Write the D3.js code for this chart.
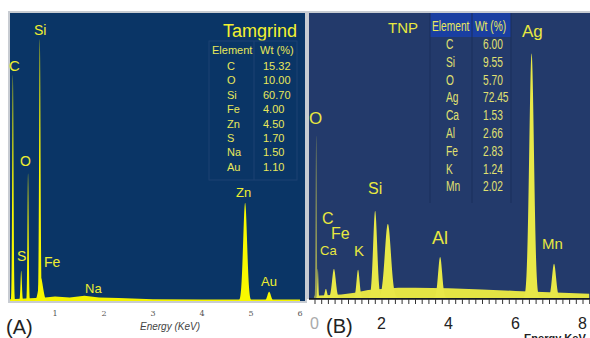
<!DOCTYPE html>
<html>
<head>
<meta charset="utf-8">
<script src="https://cdn.jsdelivr.net/npm/d3@7"></script>
<style>
  body { margin: 0; background: #fff; }
  svg { display: block; font-family: Arial, "Liberation Sans", sans-serif; }
</style>
</head>
<body>
<div id="chart"></div>
<script>
// ---- data: panel A (Tamgrind) ----
// peaks: element, energy (keV), height (% of full scale), width (sigma, keV)
const peaksA = [
    { el: "C",  e: 0.14, h: 78.5, w: 0.013 },
    { el: "S",  e: 0.31, h: 10.5, w: 0.014 },
    { el: "O",  e: 0.45, h: 44.3, w: 0.012 },
    { el: "Fe", e: 0.71, h: 8.0,  w: 0.045 },
    { el: "Si", e: 0.69, h: 91.0, w: 0.014 },
    { el: "Zn", e: 4.88, h: 34.1, w: 0.040 },
    { el: "Au", e: 5.37, h: 3.2,  w: 0.035 }
];
const backgroundA = [[0.05, 0.6], [0.8, 1.2], [1.0, 1.6], [1.3, 1.2], [1.6, 1.8], [1.9, 1.2], [2.3, 1.0], [3.0, 0.6], [4.0, 0.5], [6.0, 0.5]];
const ticksA = [1, 2, 3, 4, 5, 6];
const tableAEl = ["C", "O", "Si", "Fe", "Zn", "S", "Na", "Au"];
const tableAWt = ["15.32", "10.00", "60.70", "4.00", "4.50", "1.70", "1.50", "1.10"];

// ---- data: panel B (TNP) ----
const peaksB = [
    { el: "O",  e: 0.05, h: 57.0, w: 0.015 },
    { el: "C",  e: 0.10, h: 10.2, w: 0.015 },
    { el: "Ca", e: 0.34, h: 3.2,  w: 0.035 },
    { el: "Fe", e: 0.58, h: 10.2, w: 0.055 },
    { el: "K",  e: 1.30, h: 9.9,  w: 0.045 },
    { el: "Si", e: 1.81, h: 30.6, w: 0.06 },
    { el: "",   e: 2.19, h: 26.0, w: 0.09 },
    { el: "Al", e: 3.75, h: 14.4, w: 0.06 },
    { el: "Ag", e: 6.48, h: 85.9, w: 0.07 },
    { el: "Mn", e: 7.15, h: 12.0, w: 0.06 }
];
const backgroundB = [[0.0, 0.8], [0.8, 1.2], [1.2, 1.8], [1.6, 2.8], [2.5, 3.6], [3.0, 3.6], [4.0, 3.4], [5.0, 3.0], [6.0, 2.5], [7.0, 2.0], [8.2, 1.5]];
const ticksB = [0, 2, 4, 6, 8];
const tableBEl = ["C", "Si", "O", "Ag", "Ca", "Al", "Fe", "K", "Mn"];
const tableBWt = ["6.00", "9.55", "5.70", "72.45", "1.53", "2.66", "2.83", "1.24", "2.02"];

const W = 590, H = 338;
const svg = d3.select("#chart").append("svg")
    .attr("width", W)
    .attr("height", H);

svg.append("rect").attr("width", W).attr("height", H).attr("fill", "#fff");

// shape of one peak drawn from its row
function peakPoints(p) {
    const pts = [];
    for (let i = -40; i <= 40; i++) {
        const e = p.e + i / 10 * p.w;
        pts.push([e, p.h * Math.exp(-0.5 * Math.pow((e - p.e) / p.w, 2))]);
    }
    return pts;
}

// ================= Panel A =================
svg.append("rect").attr("x", 8).attr("y", 11).attr("width", 299).attr("height", 292).attr("fill", "#c8ccd2");
svg.append("rect").attr("x", 10).attr("y", 13).attr("width", 295).attr("height", 288).attr("fill", "#0a3566");

svg.append("clipPath").attr("id", "clipA")
    .append("rect").attr("x", 10).attr("y", 13).attr("width", 295).attr("height", 288);

const xA = d3.scaleLinear().domain([0, 6]).range([6, 300]);
const yA = d3.scaleLinear().domain([0, 100]).range([301, 13]);

const areaA = d3.area().x(d => xA(d[0])).y0(yA(0)).y1(d => yA(d[1]));
const gA = svg.append("g").attr("clip-path", "url(#clipA)");

gA.append("path").datum(backgroundA).attr("d", areaA).attr("fill", "#f4f400");
gA.selectAll("path.peak")
    .data(peaksA)
    .enter()
    .append("path")
    .attr("class", "peak")
    .attr("d", d => areaA(peakPoints(d)))
    .attr("fill", "#f8f800");

// x tick labels
svg.selectAll("text.tickA")
    .data(ticksA)
    .enter()
    .append("text")
    .attr("class", "tickA")
    .attr("x", d => xA(d))
    .attr("y", 316)
    .attr("text-anchor", "middle")
    .style("font-family", "'DejaVu Serif', serif")
    .style("font-size", "8px")
    .attr("fill", "#555")
    .text(d => d);

svg.append("text")
    .attr("x", 170).attr("y", 330)
    .attr("text-anchor", "middle")
    .style("font-size", "10px")
    .style("font-style", "italic")
    .attr("fill", "#444")
    .text("Energy (KeV)");

svg.append("text")
    .attr("x", 6).attr("y", 334)
    .style("font-size", "20px")
    .attr("fill", "#222")
    .text("(A)");

// peak labels
const labelsA = [
    { t: "Si", x: 34, y: 35, s: 14 },
    { t: "C",  x: 9,  y: 71, s: 15 },
    { t: "O",  x: 20, y: 166, s: 14 },
    { t: "S",  x: 17, y: 261, s: 14 },
    { t: "Fe", x: 44, y: 267, s: 14 },
    { t: "Na", x: 85, y: 293, s: 13 },
    { t: "Zn", x: 236, y: 197, s: 13 },
    { t: "Au", x: 261, y: 286, s: 13 }
];
svg.selectAll("text.lblA")
    .data(labelsA)
    .enter()
    .append("text")
    .attr("class", "lblA")
    .attr("x", d => d.x).attr("y", d => d.y)
    .style("font-size", d => d.s + "px")
    .attr("fill", "#eeee30")
    .text(d => d.t);

// table A
svg.append("text")
    .attr("x", 297).attr("y", 37)
    .attr("text-anchor", "end")
    .style("font-size", "18px")
    .attr("fill", "#f2f230")
    .text("Tamgrind");

const tabA = svg.append("g");
tabA.append("rect").attr("x", 209).attr("y", 41).attr("width", 88).attr("height", 139)
    .attr("fill", "none").attr("stroke", "#1c4272").attr("stroke-width", 1);
tabA.append("line").attr("x1", 254).attr("x2", 254).attr("y1", 41).attr("y2", 180)
    .attr("stroke", "#1c4272");
tabA.append("text").attr("x", 212).attr("y", 54).style("font-size", "11px").attr("fill", "#e8e85a").text("Element");
tabA.append("text").attr("x", 260).attr("y", 54).style("font-size", "11px").attr("fill", "#e8e85a").text("Wt (%)");
tabA.selectAll("text.elA")
    .data(tableAEl)
    .enter()
    .append("text")
    .attr("class", "elA")
    .attr("x", 227).attr("y", (d, i) => 70 + i * 14.4)
    .style("font-size", "11px")
    .attr("fill", "#e8e85a")
    .text(d => d);
tabA.selectAll("text.wtA")
    .data(tableAWt)
    .enter()
    .append("text")
    .attr("class", "wtA")
    .attr("x", 263).attr("y", (d, i) => 70 + i * 14.4)
    .style("font-size", "11px")
    .attr("fill", "#e8e85a")
    .text(d => d);

// ================= Panel B =================
svg.append("rect").attr("x", 307).attr("y", 11).attr("width", 283).attr("height", 288).attr("fill", "#c8ccd2");
svg.append("rect").attr("x", 309).attr("y", 13).attr("width", 281).attr("height", 286).attr("fill", "#233a6b");

svg.append("clipPath").attr("id", "clipB")
    .append("rect").attr("x", 309).attr("y", 13).attr("width", 281).attr("height", 286);

const xB = d3.scaleLinear().domain([0, 8]).range([314.5, 582.5]);
const yB = d3.scaleLinear().domain([0, 100]).range([298, 13]);

const areaB = d3.area().x(d => xB(d[0])).y0(yB(0)).y1(d => yB(d[1]));
const gB = svg.append("g").attr("clip-path", "url(#clipB)");

gB.append("path").datum(backgroundB).attr("d", areaB).attr("fill", "#e4e444");
gB.selectAll("path.peak")
    .data(peaksB)
    .enter()
    .append("path")
    .attr("class", "peak")
    .attr("d", d => areaB(peakPoints(d)))
    .attr("fill", d => d.el === "O" ? "#9aa058" : "#e8e848");

// x axis B
const axisB = d3.axisBottom(xB)
    .tickValues(d3.range(0, 8.21, 0.2))
    .tickSize(5)
    .tickFormat("");
const axB = svg.append("g")
    .attr("transform", "translate(0, 299)")
    .call(axisB);
axB.select(".domain").attr("d", "M309,0H590").attr("stroke", "#111").attr("stroke-width", 1.5);
axB.selectAll(".tick line").attr("stroke", "#333");

svg.selectAll("text.tickB")
    .data(ticksB)
    .enter()
    .append("text")
    .attr("class", "tickB")
    .attr("x", d => xB(d))
    .attr("y", 329)
    .attr("text-anchor", "middle")
    .style("font-size", "16px")
    .attr("fill", d => d === 0 ? "#aaa" : "#222")
    .text(d => d);

svg.append("text")
    .attr("x", 326).attr("y", 333)
    .style("font-size", "20px")
    .attr("fill", "#222")
    .text("(B)");

// axis title sits at the bottom edge, partly cut off as in the source figure
svg.append("text")
    .attr("x", 524).attr("y", 342)
    .style("font-size", "11px")
    .style("font-weight", "bold")
    .attr("fill", "#222")
    .text("Energy KeV");

const labelsB = [
    { t: "O",  x: 309, y: 124, s: 17 },
    { t: "C",  x: 322, y: 224, s: 16 },
    { t: "Fe", x: 331, y: 239, s: 16 },
    { t: "Ca", x: 320, y: 255, s: 13 },
    { t: "K",  x: 354, y: 256, s: 15 },
    { t: "Si", x: 368, y: 194, s: 16 },
    { t: "Al", x: 432, y: 244, s: 18 },
    { t: "Ag", x: 522, y: 37, s: 17 },
    { t: "Mn", x: 542, y: 249, s: 15 }
];
svg.selectAll("text.lblB")
    .data(labelsB)
    .enter()
    .append("text")
    .attr("class", "lblB")
    .attr("x", d => d.x).attr("y", d => d.y)
    .style("font-size", d => d.s + "px")
    .attr("fill", "#e8e840")
    .text(d => d.t);

svg.append("text")
    .attr("x", 388).attr("y", 33)
    .style("font-size", "15px")
    .attr("fill", "#e8e840")
    .text("TNP");

// table B (condensed lettering -> squeeze horizontally)
const tabB = svg.append("g");
tabB.append("rect").attr("x", 430).attr("y", 13).attr("width", 81).attr("height", 24).attr("fill", "#1a3fa2");
[430, 472, 511].forEach(x => {
    tabB.append("line").attr("x1", x).attr("x2", x).attr("y1", 13).attr("y2", 203)
        .attr("stroke", "#1b2f5c").attr("stroke-width", 1);
});
function narrow(sel, x, y) {
    return sel.attr("transform", `translate(${x},${y}) scale(0.68,1)`)
        .style("font-size", "15px");
}
narrow(tabB.append("text"), 432, 31).attr("fill", "#e8e860").text("Element");
narrow(tabB.append("text"), 475, 31).attr("fill", "#e8e860").text("Wt (%)");
tabB.selectAll("text.elB")
    .data(tableBEl)
    .enter()
    .append("text")
    .attr("class", "elB")
    .attr("transform", (d, i) => `translate(446,${49 + i * 17.8}) scale(0.68,1)`)
    .style("font-size", "15px")
    .attr("fill", "#e0e070")
    .text(d => d);
tabB.selectAll("text.wtB")
    .data(tableBWt)
    .enter()
    .append("text")
    .attr("class", "wtB")
    .attr("transform", (d, i) => `translate(483,${49 + i * 17.8}) scale(0.68,1)`)
    .style("font-size", "15px")
    .attr("fill", "#e0e070")
    .text(d => d);
</script>
</body>
</html>
